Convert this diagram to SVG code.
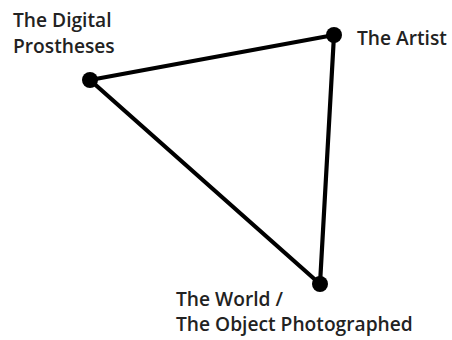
<svg xmlns="http://www.w3.org/2000/svg" width="452" height="340" viewBox="0 0 452 340">
<style>
.lbl{font-family:"Open Sans","Liberation Sans",sans-serif;font-size:19.2px;font-weight:600;fill:#222}
.edge{stroke:#000;stroke-width:4.2;fill:none;stroke-linecap:round}
.dot{fill:#000}
</style>
<rect width="452" height="340" fill="#fff"/>
<g id="connectors">
<line class="edge" x1="90" y1="80" x2="334" y2="35"/>
<line class="edge" x1="334" y1="35" x2="320" y2="284"/>
<line class="edge" x1="320" y1="284" x2="90" y2="80"/>
</g>
<g id="node-prostheses">
<circle class="dot" cx="90" cy="80" r="8"/>
<text class="lbl" x="13" y="27">The Digital</text>
<text class="lbl" x="13" y="53">Prostheses</text>
</g>
<g id="node-artist">
<circle class="dot" cx="334" cy="35" r="8"/>
<text class="lbl" x="357" y="45">The Artist</text>
</g>
<g id="node-world">
<circle class="dot" cx="320" cy="284" r="8"/>
<text class="lbl" x="176" y="306">The World /</text>
<text class="lbl" x="176" y="331">The Object Photographed</text>
</g>
</svg>
